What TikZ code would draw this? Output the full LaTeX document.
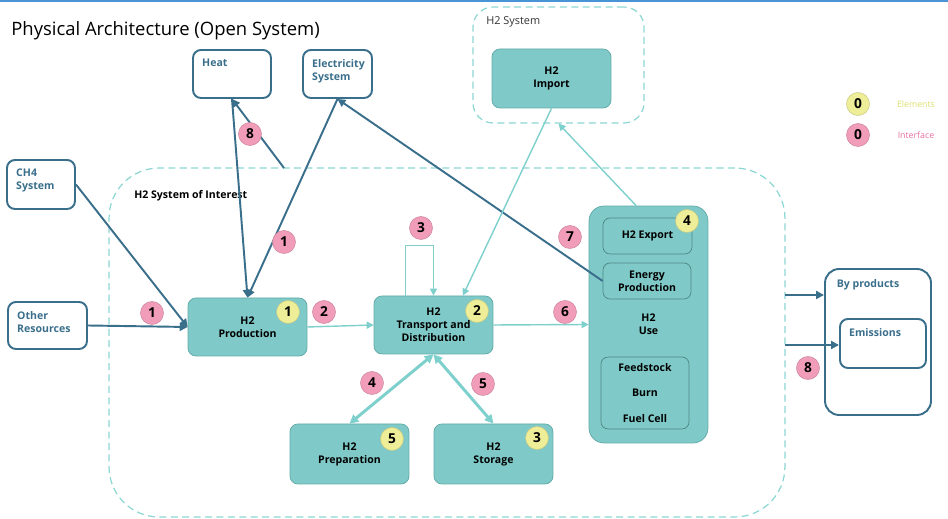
\documentclass[tikz,border=0pt]{standalone}
\usepackage{fontspec}
\setmainfont{Open Sans}
\definecolor{TopBlue}{RGB}{72,148,214}
\definecolor{DeepTeal}{RGB}{58,111,140}
\definecolor{TealFill}{RGB}{127,202,200}
\definecolor{TealEdge}{RGB}{96,168,166}
\definecolor{LiteLine}{RGB}{126,208,205}
\definecolor{DashTeal}{RGB}{140,215,211}
\definecolor{BadgePink}{RGB}{241,156,184}
\definecolor{BadgeYellow}{RGB}{238,237,152}
\definecolor{ElemText}{RGB}{222,222,110}
\definecolor{IntfText}{RGB}{232,112,160}
\usetikzlibrary{arrows.meta, positioning}

\begin{document}
\begin{tikzpicture}[x=0.02cm, y=-0.02cm,
    elem/.style={draw=TealEdge, fill=TealFill, rounded corners=4.5pt, align=center, inner sep=1pt, font=\fontsize{6}{7.4}\selectfont\bfseries},
    part/.style={draw=TealEdge!80!black, rounded corners=4pt, align=center, inner sep=1pt, font=\fontsize{6}{7.4}\selectfont\bfseries},
    ext/.style={draw=DeepTeal, line width=1.1pt, fill=white, rounded corners=4.5pt},
    ttl/.style={anchor=north west, inner sep=0pt, xshift=5.6pt, yshift=-5.6pt, align=left, text=DeepTeal, font=\fontsize{6}{7.4}\selectfont\bfseries},
    bound/.style={draw=DashTeal, dashed, dash pattern=on 4pt off 2.5pt, line width=0.7pt},
    ebadge/.style={circle, fill=BadgeYellow, draw=BadgeYellow!85!black, line width=0.3pt, minimum size=0.46cm, inner sep=0pt, font=\fontsize{7.8}{8}\selectfont\bfseries},
    ibadge/.style={circle, fill=BadgePink, draw=BadgePink!85!black, line width=0.3pt, minimum size=0.46cm, inner sep=0pt, font=\fontsize{7.8}{8}\selectfont\bfseries},
    dark/.style={-{Triangle[length=4.5pt, width=4.5pt]}, DeepTeal, line width=1.1pt},
    lite/.style={-{Triangle[length=4pt, width=4pt]}, LiteLine, line width=0.8pt},
    twoway/.style={{Triangle[length=5pt, width=5pt]}-{Triangle[length=5pt, width=5pt]}, LiteLine, line width=1.7pt}
  ]
    \useasboundingbox (0,0) rectangle (948,519);
    \draw[TopBlue, line width=1.6pt] (0,1) -- (948,1);
    \node[anchor=west, inner sep=0pt, font=\fontsize{10.5}{12}\selectfont] (title) at (11,31) {Physical Architecture (Open System)};

    \node[bound, rounded corners=1cm, minimum width=13.52cm, minimum height=6.98cm] (soi) at (447,342.5) {};
    \node[anchor=west, inner sep=0pt, font=\fontsize{6}{7}\selectfont\bfseries] (soitxt) at (134,196) {H2 System of Interest};
    \node[bound, rounded corners=0.4cm, minimum width=3.42cm, minimum height=2.32cm] (h2sys) at (558.5,65) {};
    \node[anchor=west, inner sep=0pt, text=black!80, font=\fontsize{6.2}{7}\selectfont] (h2systxt) at (486,22) {H2 System};

    \node[ext, minimum width=1.56cm, minimum height=0.96cm, label={[ttl]north west:Heat}] (heat) at (232,74) {};
    \node[ext, minimum width=1.38cm, minimum height=0.96cm, label={[ttl]north west:Electricity\\System}] (elec) at (337.5,74) {};
    \node[ext, minimum width=1.36cm, minimum height=0.98cm, label={[ttl]north west:CH4\\System}] (ch4) at (41,184.5) {};
    \node[ext, minimum width=1.58cm, minimum height=0.94cm, label={[ttl]north west:Other\\Resources}] (other) at (47.5,325.5) {};
    \node[ext, rounded corners=8pt, minimum width=2.12cm, minimum height=2.92cm, label={[ttl, xshift=1.5pt, yshift=-0.8pt]north west:By products}] (byprod) at (878,342) {};
    \node[ext, minimum width=1.72cm, minimum height=0.98cm, label={[ttl]north west:Emissions}] (emis) at (883,343.5) {};

    \node[elem, minimum width=2.38cm, minimum height=1.18cm] (imp) at (551.5,78.5) {H2\\Import};
    \node[elem, minimum width=2.38cm, minimum height=1.16cm] (prod) at (247.5,327) {H2\\Production};
    \node[elem, minimum width=2.38cm, minimum height=1.16cm] (trans) at (433.5,325) {H2\\Transport and\\Distribution};
    \node[elem, minimum width=2.38cm, minimum height=1.2cm] (prep) at (349.5,454) {H2\\Preparation};
    \node[elem, minimum width=2.38cm, minimum height=1.2cm] (stor) at (493.5,454) {H2\\Storage};
    \node[elem, rounded corners=8.5pt, minimum width=2.38cm, minimum height=4.74cm] (use) at (648.5,324.5) {H2\\Use};
    \node[part, minimum width=1.78cm, minimum height=0.72cm] (export) at (647.5,236) {H2 Export};
    \node[part, minimum width=1.76cm, minimum height=0.72cm] (energy) at (647,281) {Energy\\Production};
    \node[part, minimum width=1.76cm, minimum height=1.44cm, font=\fontsize{6}{14.5}\selectfont\bfseries] (feed) at (645,393) {Feedstock\\Burn\\Fuel Cell};

    \coordinate (heatout) at (284,168);
    \coordinate (bpin) at (785,295);
    \coordinate (emin) at (785,345);

    \draw[dark] (ch4.east) -- (prod.west);
    \draw[dark] (other.east) -- (prod.west);
    \draw[dark] (heat.south) -- (prod.north);
    \draw[dark] (elec.south) -- (prod.north);
    \draw[dark] (heatout) -- (heat.south);
    \draw[dark] (energy.west) -- (elec.south);
    \draw[dark] (bpin) -- (bpin -| byprod.west);
    \draw[dark] (emin) -- (emin -| emis.west);
    \draw[lite] (prod.east) -- (trans.west);
    \draw[lite] (trans.east) -- (use.west);
    \draw[lite] ([xshift=-16pt]trans.north) -- ++(0,-50) -| (trans.north);
    \draw[lite] (imp.south) -- ([xshift=16.7pt]trans.north);
    \draw[lite] ([xshift=-7pt]use.north) -- (h2sys.south);
    \draw[twoway] (prep.north) -- (trans.south);
    \draw[twoway] (stor.north) -- (trans.south);

    \foreach \x/\y/\n [count=\k] in {288/312/1, 477/311/2, 392/439/5, 537/438/3, 687/221/4, 858/104/0}
      \node[ebadge] (eb\k) at (\x,\y) {\n};
    \foreach \x/\y/\n [count=\k] in {250/134/8, 284/242/1, 152/313/1, 324/312/2, 421/228/3, 570/237/7, 565/312/6, 372/383/4, 483/384/5, 808/368/8, 858/135/0}
      \node[ibadge] (ib\k) at (\x,\y) {\n};
    \node[text=ElemText, font=\fontsize{5}{6}\selectfont] (elemtxt) at (916,104) {Elements};
    \node[text=IntfText, font=\fontsize{5}{6}\selectfont] (intftxt) at (916,135) {Interface};
  \end{tikzpicture}
\end{document}
